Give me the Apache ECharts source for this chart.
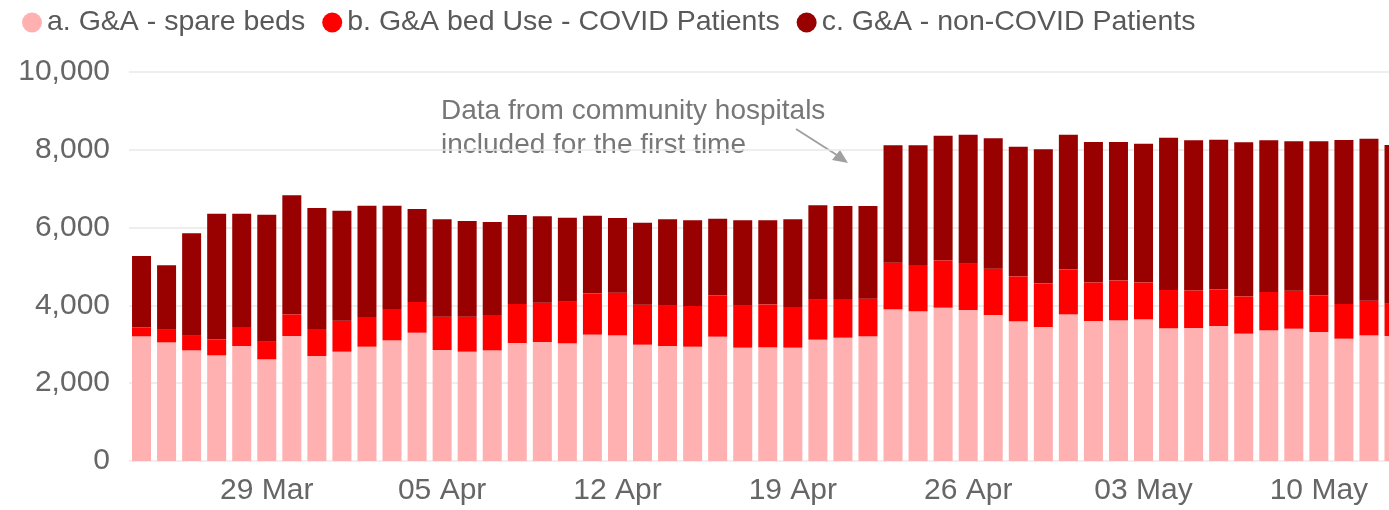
<!DOCTYPE html>
<html>
<head>
<meta charset="utf-8">
<script src="https://cdn.jsdelivr.net/npm/echarts@6/dist/echarts.min.js"></script>
<style>
html,body{margin:0;padding:0;background:#fff;}
#chart{width:1389px;height:510px;}
</style>
</head>
<body>
<div id="chart"></div>
<script>
const categories = [
  '24 Mar','25 Mar','26 Mar','27 Mar','28 Mar','29 Mar','30 Mar','31 Mar',
  '01 Apr','02 Apr','03 Apr','04 Apr','05 Apr','06 Apr','07 Apr','08 Apr','09 Apr','10 Apr',
  '11 Apr','12 Apr','13 Apr','14 Apr','15 Apr','16 Apr','17 Apr','18 Apr','19 Apr','20 Apr',
  '21 Apr','22 Apr','23 Apr','24 Apr','25 Apr','26 Apr','27 Apr','28 Apr','29 Apr','30 Apr',
  '01 May','02 May','03 May','04 May','05 May','06 May','07 May','08 May','09 May','10 May',
  '11 May','12 May','13 May'
];
const spareBeds = [
  3205,3050,2845,2716,2956,2614,3213,2699,2810,2938,3102,3298,2853,2810,2845,3033,3059,3025,
  3248,3230,2990,2956,2938,3196,2913,2922,2913,3119,3170,3205,3899,3848,3941,3882,3753,3591,
  3445,3770,3599,3616,3642,3411,3419,3470,3273,3359,3401,3316,3144,3230,3213
];
const covidPatients = [
  232,326,377,412,489,453,558,694,797,764,805,789,857,900,908,1003,1011,1071,
  1062,1097,1029,1037,1046,1063,1080,1105,1046,1028,995,968,1199,1191,1218,1191,1191,1156,
  1122,1157,994,1028,951,985,969,943,960,985,977,943,892,891,831
];
const nonCovidPatients = [
  1833,1654,2631,3230,2913,3265,3059,3111,2828,2861,2656,2391,2502,2460,2391,2288,2220,2160,
  1997,1920,2108,2219,2203,1971,2194,2160,2253,2425,2390,2382,3017,3076,3204,3316,3351,3333,
  3446,3462,3607,3556,3564,3916,3856,3848,3959,3900,3840,3959,4216,4165,4079
];
const seriesNames = ['a. G&A - spare beds','b. G&A bed Use - COVID Patients','c. G&A - non-COVID Patients'];
const yTicks = [0,2000,4000,6000,8000,10000];
const annotationText = 'Data from community hospitals\nincluded for the first time';

const FONT = "'Liberation Sans', Arial, sans-serif";
const chart = echarts.init(document.getElementById('chart'), null, {renderer:'canvas'});
const colors = ['#ffb0b0','#ff0000','#990000'];
const datas = [spareBeds, covidPatients, nonCovidPatients];

chart.setOption({
  animation:false,
  color: colors,
  legend:{
    left:17, top:3, itemWidth:20, itemHeight:20, itemGap:17, icon:'circle',
    textStyle:{fontFamily:FONT, fontSize:28.5, color:'#595959'},
    data: seriesNames
  },
  grid:{left:129, top:72, width:1277.55, height:389, containLabel:false, outerBoundsMode:'none'},
  xAxis:{
    type:'category', data:categories,
    axisLine:{show:false}, axisTick:{show:false},
    axisLabel:{
      interval:(i)=> (i-5)%7===0 && i>=5,
      fontFamily:FONT, fontSize:30, color:'#666', margin:15
    }
  },
  yAxis:{
    type:'value', min:yTicks[0], max:yTicks[yTicks.length-1], interval:2000,
    axisLine:{show:false}, axisTick:{show:false},
    splitLine:{lineStyle:{color:'#e8e8e8', width:1.5}},
    axisLabel:{fontFamily:FONT, fontSize:30, color:'#666', margin:19,
      formatter:(v)=>v.toLocaleString('en-US')}
  },
  series: seriesNames.map((n,k)=>({
    name:n, type:'bar', stack:'total', barWidth:19, data:datas[k],
    itemStyle:{color:colors[k]}
  })),
  graphic:[
    {type:'text', left:441, top:94, style:{text:annotationText, font:'28px '+FONT, fill:'#777', lineHeight:34}},
    {type:'line', shape:{x1:796, y1:129, x2:840, y2:157}, style:{stroke:'#a0a0a0', lineWidth:2}},
    {type:'polygon', shape:{points:[[848,163],[832,160],[840,150]]}, style:{fill:'#a0a0a0'}}
  ]
});
</script>
</body>
</html>
